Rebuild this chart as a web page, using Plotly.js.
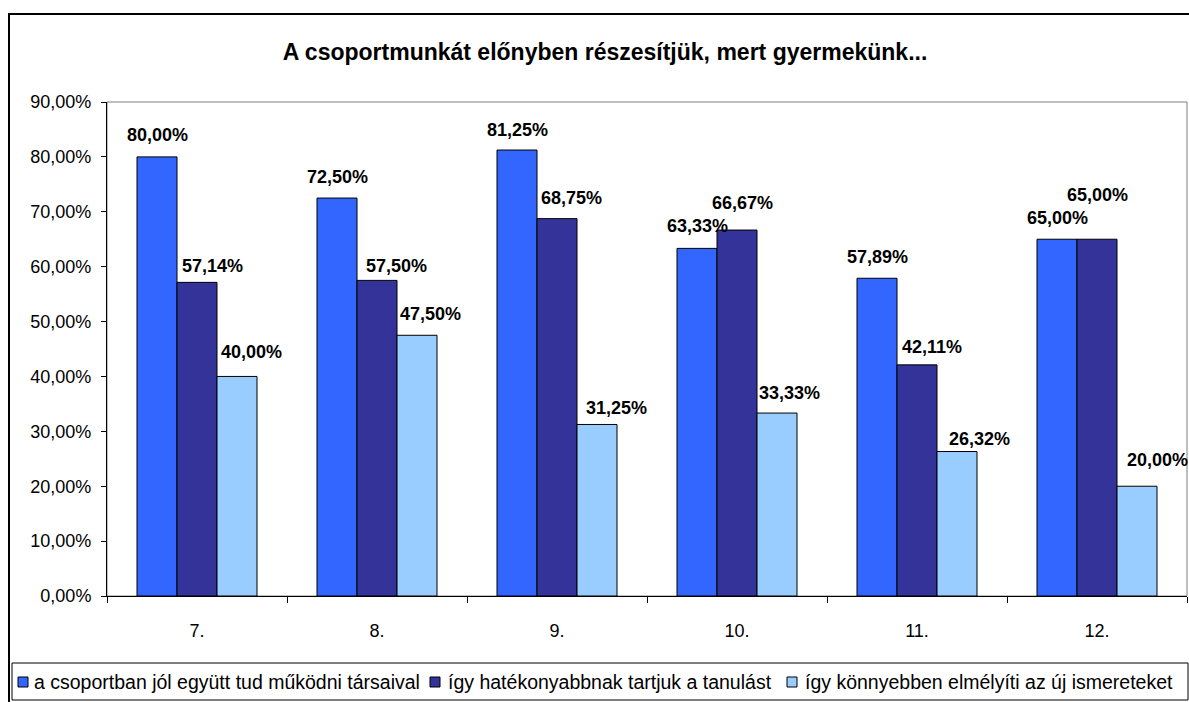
<!DOCTYPE html>
<html>
<head>
<meta charset="utf-8">
<script src="https://cdn.plot.ly/plotly-3.0.1.min.js"></script>
<style>html,body{margin:0;padding:0;background:#fff;}#chart{width:1189px;height:702px;}</style>
</head>
<body>
<div id="chart"></div>
<script>
const categories = ['7.', '8.', '9.', '10.', '11.', '12.'];
const seriesNames = [
  'a csoportban jól együtt tud működni társaival',
  'így hatékonyabbnak tartjuk a tanulást',
  'így könnyebben elmélyíti az új ismereteket'
];
const seriesA = [80.00, 72.50, 81.25, 63.33, 57.89, 65.00];
const seriesB = [57.14, 57.50, 68.75, 66.67, 42.11, 65.00];
const seriesC = [40.00, 47.50, 31.25, 33.33, 26.32, 20.00];
const yTickValues = [0, 10, 20, 30, 40, 50, 60, 70, 80, 90];
const chartTitle = 'A csoportmunkát előnyben részesítjük, mert gyermekünk...';

// style: colours, label nudges (pixels), legend entry positions (pixels)
const colors = ['#3366FF', '#333399', '#99CCFF'];
const labelXShift = [
  [0, 0, 0, 0, 0, 0],
  [15, 19, 14, 5, 15, 0],
  [14, 13, 19, 12, 22, 20]
];
const labelYShift = [
  [22, 21, 20, 22, 21, 21],
  [16, 14, 21, 27, 18, 44],
  [24, 21, 16, 20, 13, 26]
];
const legendMarkerLeft = [18, 430, 787];
const legendTextLeft = [32, 446, 803];
const legendY = 682;

const FONT = 'Arial, "Liberation Sans", sans-serif';
const allSeries = [seriesA, seriesB, seriesC];
const bargap = 1/3;
const bw = (1 - bargap) / 3;

// plot area in pixels
const PL = 107, PR = 1187, PT = 102, PB = 596;
const px = x => (x - PL) / (PR - PL);
const py = y => (PB - y) / (PB - PT);

const traces = allSeries.map((vals, i) => ({
  type: 'bar',
  name: seriesNames[i],
  x: categories,
  y: vals,
  marker: {color: colors[i], line: {color: '#000', width: 1}},
  hoverinfo: 'skip',
  showlegend: false
}));

const fmt = v => v.toFixed(2).replace('.', ',') + '%';
const annotations = [];
allSeries.forEach((vals, i) => {
  vals.forEach((v, j) => {
    annotations.push({
      xref: 'x', yref: 'y',
      x: j + (i - 1) * bw, y: v,
      text: '<b>' + fmt(v) + '</b>',
      showarrow: false,
      xanchor: 'center', yanchor: 'middle',
      xshift: labelXShift[i][j], yshift: labelYShift[i][j],
      font: {family: FONT, size: 18, color: '#000'}
    });
  });
});

const shapes = [
  // plot area border (grey)
  {type: 'rect', xref: 'paper', yref: 'paper', x0: 0, x1: 1, y0: 0, y1: 1,
   line: {color: '#808080', width: 1}, layer: 'below'},
  // outer chart border
  {type: 'rect', xref: 'paper', yref: 'paper',
   x0: px(9), x1: px(1195), y0: py(710), y1: py(14),
   line: {color: '#000', width: 2}, layer: 'below'},
  // legend box
  {type: 'rect', xref: 'paper', yref: 'paper',
   x0: px(12), x1: px(1188), y0: py(700), y1: py(663),
   line: {color: '#000', width: 1}, layer: 'below'}
];

// legend entries
seriesNames.forEach((name, i) => {
  shapes.push({
    type: 'rect', xref: 'paper', yref: 'paper',
    x0: px(legendMarkerLeft[i]), x1: px(legendMarkerLeft[i] + 10),
    y0: py(legendY + 5), y1: py(legendY - 5),
    fillcolor: colors[i], line: {color: '#000', width: 1}, layer: 'above'
  });
  annotations.push({
    xref: 'paper', yref: 'paper',
    x: px(legendTextLeft[i]), y: py(legendY),
    xanchor: 'left', yanchor: 'middle',
    text: name, showarrow: false,
    font: {family: FONT, size: 19.5, color: '#000'}
  });
});

const layout = {
  width: 1189, height: 702,
  margin: {l: PL, r: 1189 - PR, t: PT, b: 702 - PB},
  paper_bgcolor: '#fff', plot_bgcolor: '#fff',
  separators: ', ',
  barmode: 'group', bargap: bargap, bargroupgap: 0,
  showlegend: false,
  title: {
    text: '<b>' + chartTitle + '</b>',
    font: {family: FONT, size: 23, color: '#000'},
    xref: 'container', yref: 'container',
    x: 605/1189, xanchor: 'center', y: 1 - 52/702, yanchor: 'middle'
  },
  xaxis: {
    type: 'category',
    showgrid: false, zeroline: false,
    showline: true, linecolor: '#000', linewidth: 1,
    ticks: 'outside', ticklen: 6, tickcolor: '#000', tickwidth: 1,
    tickson: 'boundaries',
    ticklabelstandoff: 18,
    tickfont: {family: FONT, size: 18, color: '#000'},
    range: [-0.5, 5.5]
  },
  yaxis: {
    range: [0, 90],
    tickvals: yTickValues,
    ticktext: yTickValues.map(v => v.toFixed(2).replace('.', ',') + '%'),
    showgrid: false, zeroline: false,
    showline: true, linecolor: '#000', linewidth: 1,
    ticks: 'outside', ticklen: 5, tickcolor: '#000', tickwidth: 1,
    ticklabelstandoff: 6,
    tickfont: {family: FONT, size: 18, color: '#000'}
  },
  annotations: annotations,
  shapes: shapes
};

Plotly.newPlot('chart', traces, layout, {displayModeBar: false, staticPlot: true});
</script>
</body>
</html>
